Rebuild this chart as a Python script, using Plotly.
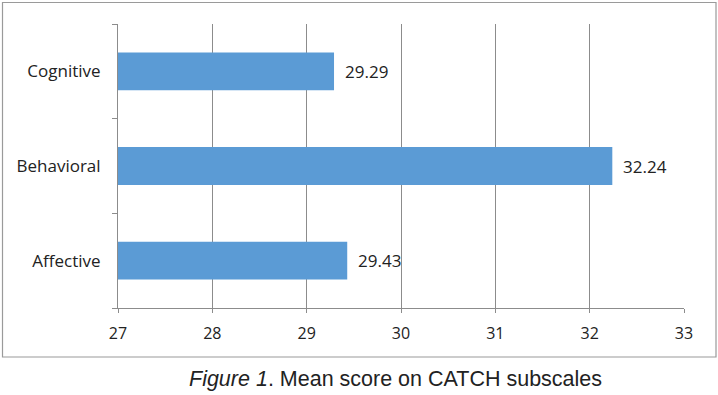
import plotly.graph_objects as go

categories = ["Affective", "Behavioral", "Cognitive"]
values = [29.43, 32.24, 29.29]
value_labels = ["29.43", "32.24", "29.29"]
x_ticks = [27, 28, 29, 30, 31, 32, 33]

W, H = 718, 395
L, R, T, B = 118, 34, 24, 87
pw, ph = W - L - R, H - T - B

def px_x(p):
    return (p - L) / pw

def px_y(p):
    return 1 - (p - T) / ph

fig = go.Figure()
fig.add_trace(go.Bar(
    y=categories, x=values, base=0, orientation="h",
    marker=dict(color="#5B9BD5", line=dict(width=0)),
    width=0.4, hoverinfo="skip",
))

for c, v, t in zip(categories, values, value_labels):
    fig.add_annotation(x=v, y=c, text=t, showarrow=False, xanchor="left",
                       xshift=9, font=dict(family="Open Sans", size=17, color="#222"))

fig.add_annotation(
    xref="paper", yref="paper", x=px_x(395), y=px_y(379),
    text="<i>Figure 1</i>. Mean score on CATCH subscales", showarrow=False,
    xanchor="center", yanchor="middle",
    font=dict(family="Liberation Sans, Arial", size=21.5, color="#222"),
)

fig.add_shape(type="rect", xref="paper", yref="paper",
              x0=px_x(2.5), x1=px_x(716), y0=px_y(2.5), y1=px_y(357),
              line=dict(color="#9a9a9a", width=1.2), fillcolor="rgba(0,0,0,0)", layer="below")

fig.update_layout(
    width=W, height=H, margin=dict(l=L, r=R, t=T, b=B),
    paper_bgcolor="white", plot_bgcolor="white", showlegend=False,
    xaxis=dict(range=[27, 33], tickvals=x_ticks, showgrid=True, gridcolor="#8c8c8c",
               gridwidth=1, zeroline=False, showline=True, linecolor="#8c8c8c",
               ticks="outside", ticklen=4, tickcolor="#8c8c8c",
               tickfont=dict(family="Open Sans", size=16, color="#222"),
               ticklabelstandoff=7, fixedrange=True),
    yaxis=dict(showline=True, linecolor="#8c8c8c", ticks="outside", ticklen=5,
               tickcolor="#8c8c8c", tickson="boundaries", showgrid=False,
               tickfont=dict(family="Open Sans", size=17, color="#222"),
               ticklabelstandoff=13, fixedrange=True),
)

fig.write_html("out.html", config={"displayModeBar": False},
               post_script="document.body.style.margin='0';")
